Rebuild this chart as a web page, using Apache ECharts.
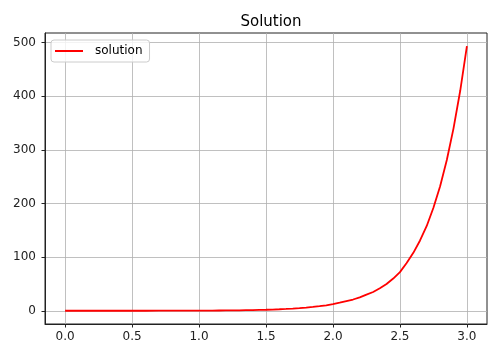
<!DOCTYPE html>
<html>
<head>
<meta charset="utf-8">
<script src="https://cdn.jsdelivr.net/npm/echarts@6/dist/echarts.min.js"></script>
<style>
  html, body { margin: 0; padding: 0; background: #fff; }
  #chart { width: 489px; height: 345px; }
</style>
</head>
<body>
<div id="chart"></div>
<script>
// Sampled solution curve (t, y)
const tValues = [
  0.0, 0.1, 0.2, 0.3, 0.4, 0.5, 0.6, 0.7, 0.8, 0.9,
  1.0, 1.05, 1.1, 1.15, 1.2, 1.25, 1.3, 1.35, 1.4, 1.45,
  1.5, 1.55, 1.6, 1.65, 1.7, 1.75, 1.8, 1.85, 1.9, 1.95,
  2.0, 2.05, 2.1, 2.15, 2.2, 2.25, 2.3, 2.35, 2.4, 2.45,
  2.5, 2.55, 2.6, 2.65, 2.7, 2.75, 2.8, 2.85, 2.9, 2.95, 3.0
];
const yValues = [
  0.0, 0.01, 0.01, 0.02, 0.03, 0.05, 0.07, 0.1, 0.14, 0.2,
  0.3, 0.35, 0.4, 0.5, 0.6, 0.75, 0.9, 1.1, 1.3, 1.6,
  1.9, 2.3, 2.8, 3.4, 4.1, 4.9, 5.9, 7.1, 8.5, 10.2,
  12.3, 15, 18, 21, 25, 30, 35, 42, 50, 60,
  72, 89, 108, 131, 158, 192, 232, 281, 340, 410, 493
];
const xTicks = [0.0, 0.5, 1.0, 1.5, 2.0, 2.5, 3.0];
const yTicks = [0, 100, 200, 300, 400, 500];
const seriesName = 'solution';
const chartTitle = 'Solution';

const points = tValues.map((t, i) => [t, yValues[i]]);
const yMax = Math.max(...yValues);
const yMin = Math.min(...yValues);
const pad = (yMax - yMin) * 0.05;

const font = 'DejaVu Sans';
const chart = echarts.init(document.getElementById('chart'), null, { renderer: 'canvas' });
chart.setOption({
  animation: false,
  backgroundColor: '#fff',
  title: {
    text: chartTitle,
    left: 266, top: 10, textAlign: 'center',
    textStyle: { fontFamily: font, fontSize: 15, fontWeight: 'normal', color: '#000' }
  },
  legend: {
    data: [{ name: seriesName, icon: 'path://M0,0H28V2H0Z' }],
    left: 51, top: 40,
    padding: [5, 7, 5, 4],
    itemWidth: 28, itemHeight: 2,
    borderColor: '#ccc', borderWidth: 1, borderRadius: 3,
    backgroundColor: 'rgba(255,255,255,0.8)',
    itemStyle: { color: '#ff0000' },
    textStyle: { fontFamily: font, fontSize: 12, color: '#000', padding: [0, 0, 0, 7] }
  },
  grid: {
    left: 45, right: 2, top: 33, bottom: 21,
    show: true, borderColor: '#222', borderWidth: 1
  },
  xAxis: {
    type: 'value',
    min: -0.15, max: 3.15,
    axisLine: { show: true, onZero: false, lineStyle: { color: '#222', width: 1 } },
    axisTick: { show: true, length: 3.5, customValues: xTicks, lineStyle: { color: '#222' } },
    axisLabel: {
      customValues: xTicks, margin: 7,
      fontFamily: font, fontSize: 12, color: '#222',
      formatter: v => v.toFixed(1)
    },
    splitLine: { show: true, lineStyle: { color: '#b0b0b0', width: 0.8 } }
  },
  yAxis: {
    type: 'value',
    min: yMin - pad, max: yMax + pad,
    axisLine: { show: true, onZero: false, lineStyle: { color: '#222', width: 1 } },
    axisTick: { show: true, length: 3.5, customValues: yTicks, lineStyle: { color: '#222' } },
    axisLabel: {
      customValues: yTicks, margin: 9,
      fontFamily: font, fontSize: 12, color: '#222',
      formatter: v => String(v)
    },
    splitLine: { show: true, lineStyle: { color: '#b0b0b0', width: 0.8 } }
  },
  series: [{
    name: seriesName,
    type: 'line',
    data: points,
    showSymbol: false,
    symbol: 'none',
    smooth: false,
    lineStyle: { color: '#ff0000', width: 1.8 },
    itemStyle: { color: '#ff0000' }
  }]
});
</script>
</body>
</html>
